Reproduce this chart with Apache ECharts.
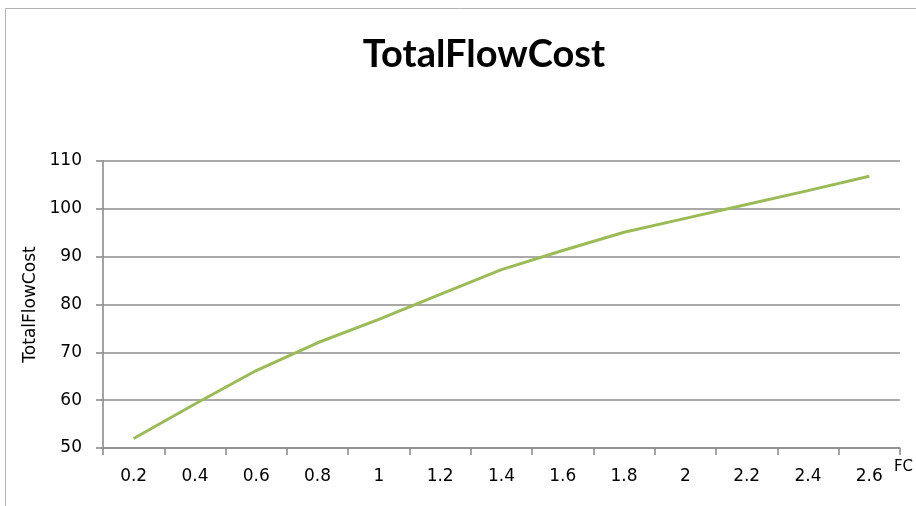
<!DOCTYPE html>
<html>
<head>
<meta charset="utf-8">
<script src="https://cdn.jsdelivr.net/npm/echarts@6/dist/echarts.min.js"></script>
<style>
html,body{margin:0;padding:0;background:#fff;}
#chart{width:916px;height:506px;}
</style>
</head>
<body>
<div id="chart"></div>
<script>
const titleText = 'TotalFlowCost';
const yAxisName = 'TotalFlowCost';
const xAxisName = 'FC';
const categories = ['0.2','0.4','0.6','0.8','1','1.2','1.4','1.6','1.8','2','2.2','2.4','2.6'];
const totalFlowCost = [52, 59.2, 66.2, 72, 76.9, 82.1, 87.3, 91.3, 95.1, 98, 100.9, 103.8, 106.8];
const yMin = 50, yMax = 110, yStep = 10;

const chart = echarts.init(document.getElementById('chart'), null, {renderer:'canvas'});
const gridColor = '#8c8c8c';
const labelFont = 'DejaVu Sans';
chart.setOption({
  animation: false,
  backgroundColor: '#ffffff',
  title: {
    text: titleText,
    left: 479,
    top: 31,
    textAlign: 'center',
    textStyle: {fontFamily: 'Lato', fontWeight: 'bold', fontSize: 38, color: '#000'}
  },
  graphic: [{
    type: 'polyline',
    shape: {points: [[5.5, 506], [5.5, 8.5], [916, 8.5]]},
    style: {stroke: '#b4b4b4', lineWidth: 1, fill: null}
  }],
  grid: {left: 103, right: 15, top: 161, bottom: 58, containLabel: false},
  xAxis: {
    type: 'category',
    data: categories,
    boundaryGap: true,
    name: xAxisName,
    nameLocation: 'end',
    nameGap: -6,
    nameTextStyle: {fontFamily: labelFont, fontSize: 15, color: '#000', align: 'left', verticalAlign: 'top', padding: [12, 0, 0, 0]},
    axisLine: {lineStyle: {color: gridColor, width: 1.6}},
    axisTick: {show: true, interval: 0, alignWithLabel: false, length: 7, lineStyle: {color: gridColor, width: 1.6}},
    axisLabel: {interval: 0, fontFamily: labelFont, fontSize: 17, color: '#000', margin: 20},
    splitLine: {show: false}
  },
  yAxis: {
    type: 'value',
    min: yMin, max: yMax, interval: yStep,
    name: yAxisName,
    nameLocation: 'middle',
    nameRotate: 90,
    nameGap: 64,
    nameTextStyle: {fontFamily: labelFont, fontSize: 17, color: '#000'},
    axisLine: {show: true, lineStyle: {color: gridColor, width: 1.6}},
    axisTick: {show: true, length: 7, lineStyle: {color: gridColor, width: 1.6}},
    axisLabel: {fontFamily: labelFont, fontSize: 17, color: '#000', margin: 21},
    splitLine: {show: true, lineStyle: {color: gridColor, width: 1.6}}
  },
  series: [{
    type: 'line',
    data: totalFlowCost,
    showSymbol: false,
    symbol: 'none',
    lineStyle: {color: '#9bbb59', width: 3},
    itemStyle: {color: '#9bbb59'}
  }]
});
</script>
</body>
</html>
